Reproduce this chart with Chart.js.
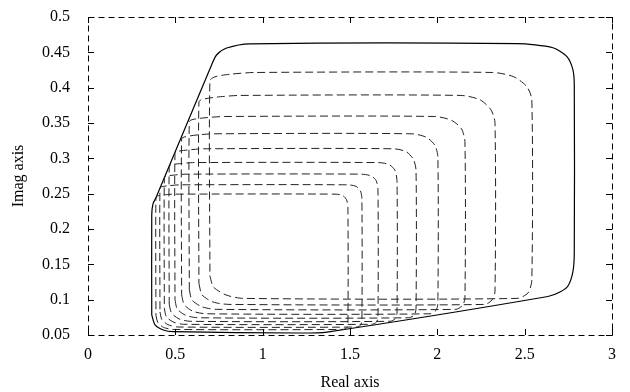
<!DOCTYPE html>
<html>
<head>
<meta charset="utf-8">
<script src="https://cdn.jsdelivr.net/npm/chart.js@4/dist/chart.umd.min.js"></script>
<style>
  html, body { margin: 0; padding: 0; background: #fff; }
</style>
</head>
<body>
<canvas id="valueSetChart" width="630" height="392"></canvas>
<script>
// axis ticks
const xTicks = [0, 0.5, 1, 1.5, 2, 2.5, 3];
const yTicks = [0.05, 0.1, 0.15, 0.2, 0.25, 0.3, 0.35, 0.4, 0.45, 0.5];

// outer envelope (solid)
const envX = [0.365, 0.365, 0.372, 0.389, 0.708, 0.737, 0.794, 0.927, 2.456, 2.662, 2.742, 2.776, 2.784, 2.784, 2.776, 2.748, 2.702, 2.633, 1.368, 1.214, 0.488, 0.431, 0.384, 0.365];
const envY = [0.0783, 0.2200, 0.2356, 0.2441, 0.4324, 0.4466, 0.4561, 0.4620, 0.4622, 0.4565, 0.4438, 0.4254, 0.4041, 0.1661, 0.1392, 0.1194, 0.1109, 0.1045, 0.0542, 0.0528, 0.0547, 0.0571, 0.0642, 0.0783];

// dashed curves, largest top first
const c1X = [0.698, 0.718, 0.790, 0.887, 2.456, 2.519, 2.541, 2.541, 2.513, 2.438, 2.318, 0.956, 0.813, 0.727, 0.698, 0.698];
const c1Y = [0.1336, 0.1180, 0.1067, 0.1018, 0.1018, 0.1095, 0.1279, 0.3829, 0.4013, 0.4154, 0.4215, 0.4215, 0.4190, 0.4154, 0.4098, 0.1336];

const c2X = [0.635, 0.653, 0.716, 0.807, 2.273, 2.313, 2.330, 2.330, 2.307, 2.244, 2.135, 0.870, 0.738, 0.658, 0.635, 0.635];
const c2Y = [0.1231, 0.1067, 0.0967, 0.0933, 0.0933, 0.0996, 0.1109, 0.3507, 0.3687, 0.3829, 0.3890, 0.3890, 0.3867, 0.3836, 0.3800, 0.1231];

const c3X = [0.580, 0.595, 0.653, 0.734, 2.106, 2.144, 2.158, 2.158, 2.138, 2.081, 1.986, 0.784, 0.670, 0.601, 0.580, 0.580];
const c3Y = [0.1146, 0.0996, 0.0899, 0.0863, 0.0863, 0.0918, 0.1018, 0.3238, 0.3418, 0.3538, 0.3592, 0.3592, 0.3574, 0.3550, 0.3521, 0.1146];

const c4X = [0.536, 0.551, 0.601, 0.679, 1.958, 1.992, 2.003, 2.003, 1.986, 1.938, 1.855, 0.721, 0.618, 0.555, 0.536, 0.536];
const c4Y = [0.1069, 0.0928, 0.0836, 0.0800, 0.0800, 0.0847, 0.0942, 0.3021, 0.3184, 0.3297, 0.3347, 0.3347, 0.3329, 0.3304, 0.3276, 0.1069];

const c5X = [0.498, 0.511, 0.558, 0.630, 1.837, 1.868, 1.878, 1.878, 1.863, 1.823, 1.752, 0.658, 0.572, 0.515, 0.498, 0.498];
const c5Y = [0.0999, 0.0868, 0.0780, 0.0744, 0.0744, 0.0783, 0.0871, 0.2837, 0.2986, 0.3092, 0.3135, 0.3135, 0.3118, 0.3099, 0.3071, 0.0999];

const c6X = [0.465, 0.478, 0.521, 0.586, 1.729, 1.759, 1.769, 1.769, 1.756, 1.721, 1.660, 0.607, 0.530, 0.481, 0.465, 0.465];
const c6Y = [0.0935, 0.0812, 0.0728, 0.0694, 0.0694, 0.0729, 0.0807, 0.2686, 0.2837, 0.2915, 0.2940, 0.2940, 0.2926, 0.2911, 0.2884, 0.0935];

const c7X = [0.437, 0.448, 0.486, 0.546, 1.626, 1.651, 1.660, 1.660, 1.649, 1.620, 1.563, 0.561, 0.492, 0.449, 0.437, 0.437];
const c7Y = [0.0878, 0.0762, 0.0686, 0.0652, 0.0652, 0.0681, 0.0751, 0.2564, 0.2688, 0.2752, 0.2776, 0.2776, 0.2763, 0.2748, 0.2724, 0.0878];

const c8X = [0.412, 0.423, 0.458, 0.515, 1.540, 1.560, 1.568, 1.568, 1.559, 1.535, 1.488, 0.527, 0.464, 0.424, 0.412, 0.412];
const c8Y = [0.0826, 0.0717, 0.0646, 0.0613, 0.0613, 0.0637, 0.0698, 0.2440, 0.2542, 0.2603, 0.2625, 0.2625, 0.2613, 0.2599, 0.2575, 0.0826];

const c9X = [0.389, 0.400, 0.432, 0.487, 1.460, 1.480, 1.488, 1.488, 1.480, 1.459, 1.420, 0.492, 0.435, 0.401, 0.389, 0.389];
const c9Y = [0.0778, 0.0677, 0.0609, 0.0579, 0.0579, 0.0599, 0.0650, 0.2309, 0.2414, 0.2472, 0.2493, 0.2493, 0.2483, 0.2469, 0.2448, 0.0778];

const serif = "'Liberation Serif', 'Times New Roman', serif";

function toPoints(xs, ys) {
  return xs.map((x, i) => ({ x, y: ys[i] }));
}

function dashedSet(xs, ys) {
  return {
    data: toPoints(xs, ys),
    showLine: true,
    borderColor: '#222',
    borderWidth: 1,
    borderDash: [8, 4],
    pointRadius: 0,
    tension: 0.25,
    fill: false
  };
}

const datasets = [
  dashedSet(c1X, c1Y), dashedSet(c2X, c2Y), dashedSet(c3X, c3Y),
  dashedSet(c4X, c4Y), dashedSet(c5X, c5Y), dashedSet(c6X, c6Y),
  dashedSet(c7X, c7Y), dashedSet(c8X, c8Y), dashedSet(c9X, c9Y),
  {
    data: toPoints(envX, envY),
    showLine: true,
    borderColor: '#000',
    borderWidth: 1.2,
    pointRadius: 0,
    tension: 0.25,
    fill: false
  }
];

// dashed frame plus inward tick marks on all four sides
const frameTicks = {
  id: 'frameTicks',
  afterDraw(chart) {
    const { ctx, chartArea: a, scales } = chart;
    ctx.save();
    ctx.strokeStyle = '#000';
    ctx.lineWidth = 1;
    ctx.setLineDash([6, 4]);
    ctx.strokeRect(Math.round(a.left) + 0.5, Math.round(a.top) + 0.5,
      Math.round(a.right - a.left), Math.round(a.bottom - a.top));
    ctx.setLineDash([]);
    ctx.beginPath();
    xTicks.forEach(v => {
      const px = Math.round(scales.x.getPixelForValue(v)) + 0.5;
      ctx.moveTo(px, a.bottom); ctx.lineTo(px, a.bottom - 6);
      ctx.moveTo(px, a.top); ctx.lineTo(px, a.top + 6);
    });
    yTicks.forEach(v => {
      const py = Math.round(scales.y.getPixelForValue(v)) + 0.5;
      ctx.moveTo(a.left, py); ctx.lineTo(a.left + 6, py);
      ctx.moveTo(a.right, py); ctx.lineTo(a.right - 6, py);
    });
    ctx.stroke();
    ctx.restore();
  }
};

new Chart(document.getElementById('valueSetChart'), {
  type: 'scatter',
  data: { datasets },
  options: {
    responsive: false,
    animation: false,
    devicePixelRatio: 1,
    layout: { padding: { top: 17, right: 18, left: 0, bottom: 0 } },
    plugins: { legend: { display: false }, tooltip: { enabled: false } },
    scales: {
      x: {
        type: 'linear',
        min: 0,
        max: 3,
        afterBuildTicks: scale => { scale.ticks = xTicks.map(value => ({ value })); },
        afterFit: scale => { scale.height = 57; scale.paddingLeft = 0; scale.paddingRight = 0; },
        grid: { display: false, drawTicks: false },
        border: { display: false },
        ticks: { color: '#000', font: { family: serif, size: 16 }, padding: 10, maxRotation: 0, callback: v => String(+v.toFixed(2)) },
        title: { display: true, text: 'Real axis', color: '#000', font: { family: serif, size: 16 }, padding: { top: 9, bottom: 0 } }
      },
      y: {
        type: 'linear',
        min: 0.05,
        max: 0.5,
        afterBuildTicks: scale => { scale.ticks = yTicks.map(value => ({ value })); },
        afterFit: scale => { scale.width = 88; scale.paddingTop = 0; scale.paddingBottom = 0; },
        grid: { display: false, drawTicks: false },
        border: { display: false },
        ticks: { color: '#000', font: { family: serif, size: 16 }, padding: 18, callback: v => String(+v.toFixed(2)) },
        title: { display: true, text: 'Imag axis', color: '#000', font: { family: serif, size: 16 }, padding: { top: 9, bottom: 0 } }
      }
    }
  },
  plugins: [frameTicks]
});
</script>
</body>
</html>
